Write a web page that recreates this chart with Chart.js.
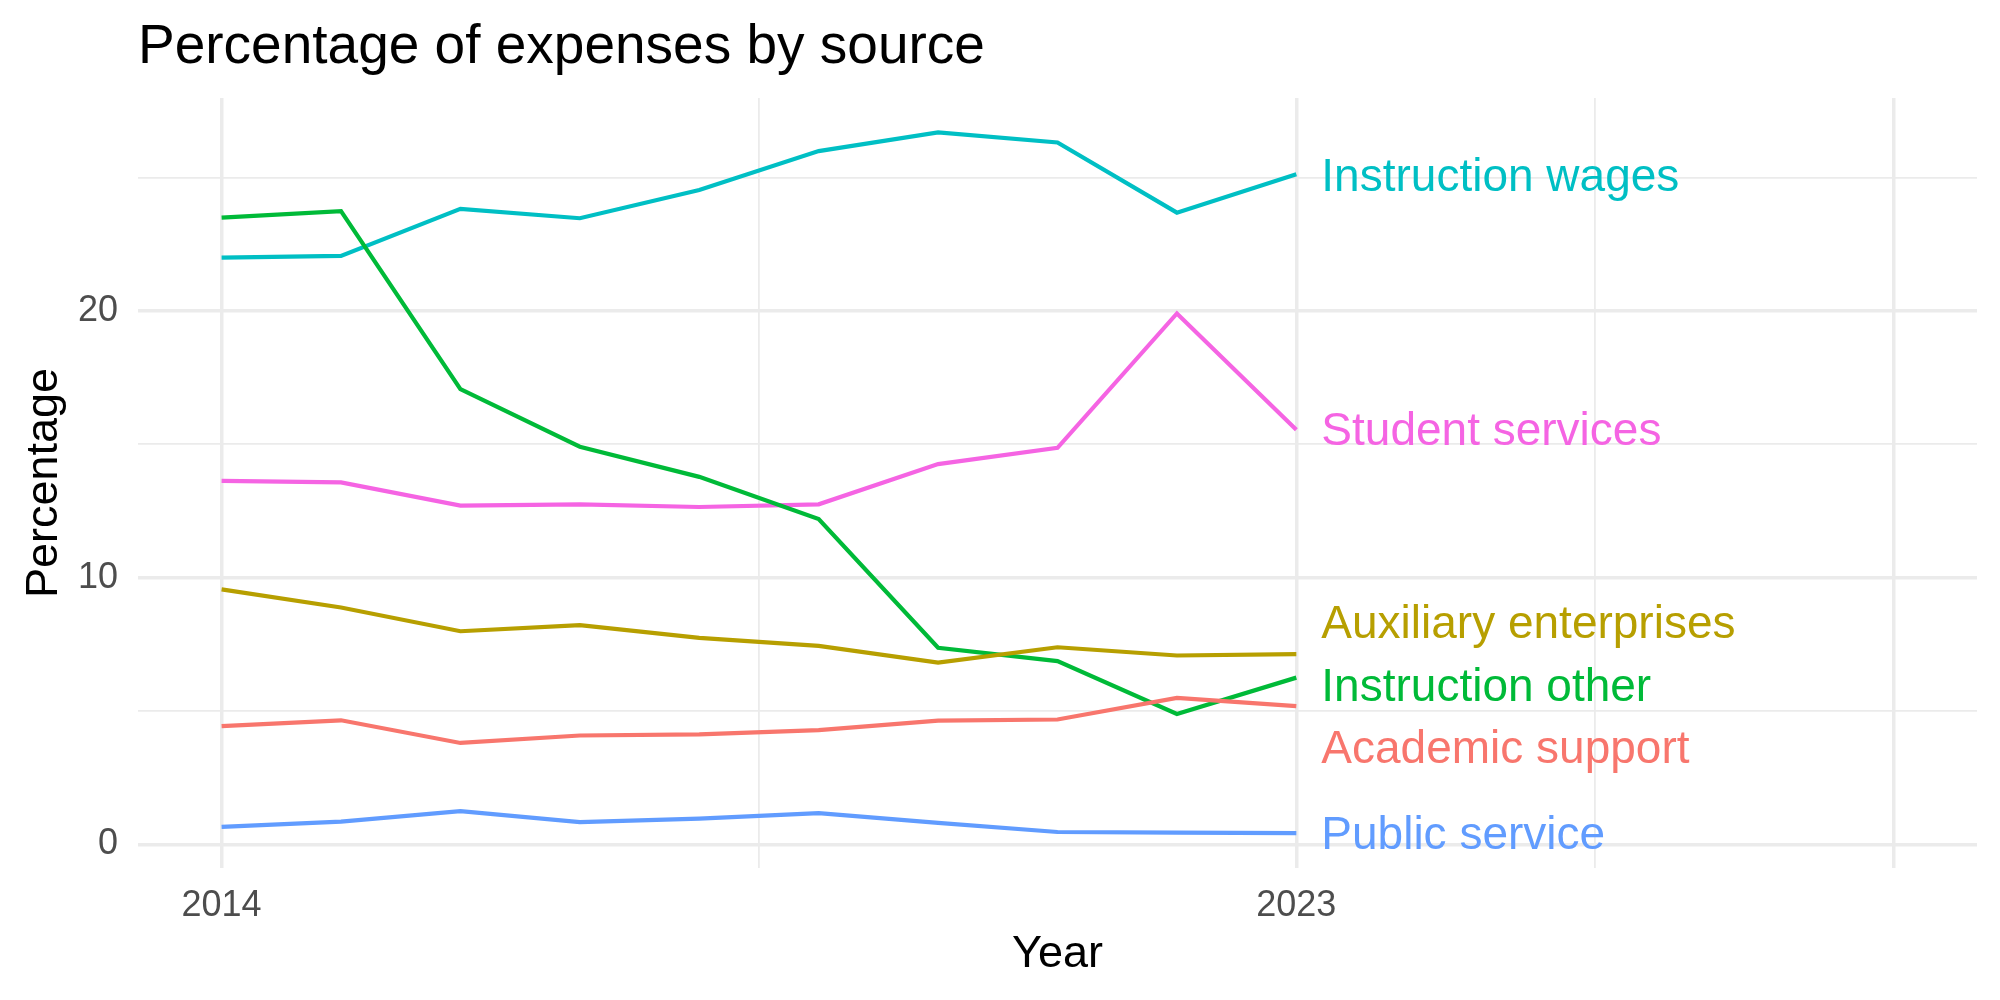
<!DOCTYPE html>
<html>
<head>
<meta charset="utf-8">
<script src="https://cdn.jsdelivr.net/npm/chart.js@4/dist/chart.umd.min.js"></script>
<style>
  html, body { margin: 0; padding: 0; background: #fff; }
  canvas { display: block; }
</style>
</head>
<body>
<canvas id="chart" width="2000" height="1000"></canvas>
<script>
// ---- data ----
const years = [2014, 2015, 2016, 2017, 2018, 2019, 2020, 2021, 2022, 2023];
const seriesNames = ["Academic support", "Auxiliary enterprises", "Instruction other",
  "Instruction wages", "Public service", "Student services"];
const academicSupport = [4.43, 4.65, 3.80, 4.08, 4.12, 4.28, 4.64, 4.68, 5.49, 5.18];
const auxiliaryEnterprises = [9.56, 8.88, 7.99, 8.22, 7.74, 7.44, 6.81, 7.39, 7.08, 7.13];
const instructionOther = [23.50, 23.75, 17.07, 14.91, 13.78, 12.20, 7.37, 6.87, 4.89, 6.25];
const instructionWages = [22.00, 22.07, 23.83, 23.48, 24.54, 26.00, 26.70, 26.32, 23.69, 25.13];
const publicService = [0.65, 0.85, 1.24, 0.83, 0.96, 1.17, 0.80, 0.46, 0.44, 0.42];
const studentServices = [13.63, 13.57, 12.70, 12.75, 12.65, 12.75, 14.26, 14.87, 19.91, 15.55];
// where the end labels sit (repelled a bit)
const labelValues = [3.62, 8.33, 5.98, 25.08, 0.40, 15.58];
const yTicks = [0, 5, 10, 15, 20, 25];
const xTicks = [2014, 2018.5, 2023, 2025.5, 2028];
const xLabels = [2014, 2023];

const colors = ["#F8766D", "#B79F00", "#00BA38", "#00BFC4", "#619CFF", "#F564E3"];
const allValues = [academicSupport, auxiliaryEnterprises, instructionOther,
  instructionWages, publicService, studentServices];

const FONT = "'Liberation Sans', Arial, sans-serif";

const datasets = seriesNames.map((name, i) => ({
  label: name,
  data: years.map((y, j) => ({ x: y, y: allValues[i][j] })),
  borderColor: colors[i],
  backgroundColor: colors[i],
  borderWidth: 4.2,
  pointRadius: 0,
  tension: 0
}));

// titles and end-of-line labels
const textPlugin = {
  id: "texts",
  afterDatasetsDraw(chart) {
    const ctx = chart.ctx;
    const xs = chart.scales.x, ys = chart.scales.y;
    const area = chart.chartArea;
    ctx.save();
    ctx.font = "46px " + FONT;
    ctx.textAlign = "left";
    ctx.textBaseline = "middle";
    seriesNames.forEach((name, i) => {
      ctx.fillStyle = colors[i];
      ctx.fillText(name, xs.getPixelForValue(2023) + 25, ys.getPixelForValue(labelValues[i]) + 3);
    });

    ctx.fillStyle = "#000";
    ctx.textBaseline = "alphabetic";
    ctx.font = "55px " + FONT;
    ctx.fillText("Percentage of expenses by source", area.left, 63);

    ctx.font = "45px " + FONT;
    ctx.textAlign = "center";
    ctx.fillText("Year", (area.left + area.right) / 2, 967);

    ctx.translate(57, (area.top + area.bottom) / 2);
    ctx.rotate(-Math.PI / 2);
    ctx.fillText("Percentage", 0, 0);
    ctx.restore();
  }
};

new Chart(document.getElementById("chart"), {
  type: "line",
  data: { datasets },
  plugins: [textPlugin],
  options: {
    responsive: false,
    animation: false,
    layout: { padding: { left: 0, right: 23, top: 98, bottom: 0 } },
    plugins: { legend: { display: false }, tooltip: { enabled: false } },
    scales: {
      x: {
        type: "linear",
        min: 2013.3,
        max: 2028.7,
        afterBuildTicks(scale) { scale.ticks = xTicks.map(v => ({ value: v })); },
        afterFit(scale) { scale.height = 132; },
        border: { display: false },
        grid: {
          color: "#ebebeb",
          drawTicks: false,
          lineWidth: c => (c.tick && c.tick.value % 1 === 0 ? 3.5 : 1.8)
        },
        ticks: {
          padding: 16,
          color: "#4d4d4d",
          font: { family: FONT, size: 36 },
          maxRotation: 0,
          autoSkip: false,
          callback: v => (xLabels.includes(v) ? String(v) : "")
        }
      },
      y: {
        min: -0.89,
        max: 27.99,
        afterBuildTicks(scale) { scale.ticks = yTicks.map(v => ({ value: v })); },
        afterFit(scale) { scale.width = 138; },
        border: { display: false },
        grid: {
          color: "#ebebeb",
          drawTicks: false,
          lineWidth: c => (c.tick && c.tick.value % 10 === 0 ? 3.5 : 1.8)
        },
        ticks: {
          padding: 20,
          color: "#4d4d4d",
          font: { family: FONT, size: 36 },
          callback: v => (v % 10 === 0 ? String(v) : "")
        }
      }
    }
  }
});
</script>
</body>
</html>
